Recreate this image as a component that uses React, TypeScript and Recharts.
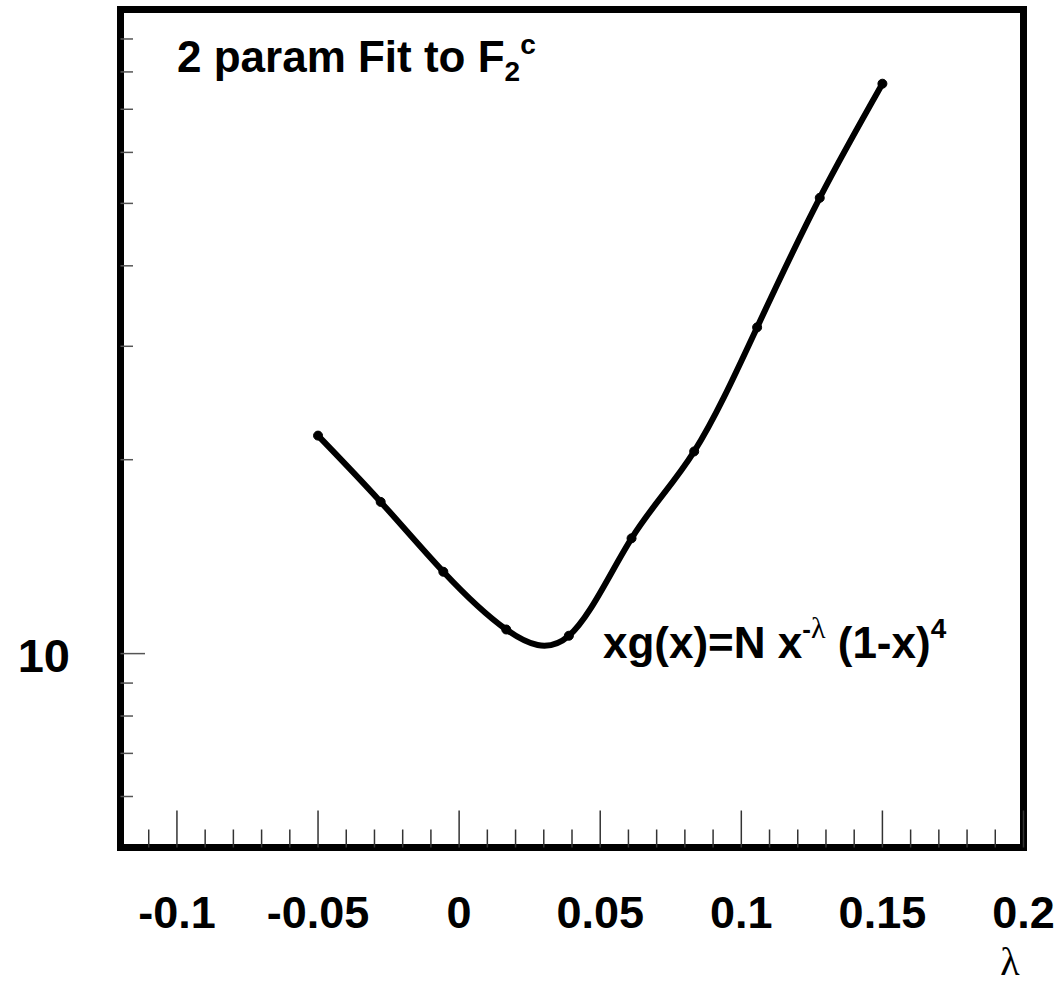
import React from "react";
import { LineChart, Line, XAxis, YAxis, ReferenceArea } from "recharts";

// fit scan: chi2 vs lambda
const lambdaValues = [-0.05, -0.0278, -0.0056, 0.0167, 0.0389, 0.0611, 0.0833, 0.1056, 0.1278, 0.15];
const chi2Values = [21.8, 17.2, 13.4, 10.9, 10.66, 15.1, 20.6, 32.1, 51.0, 76.7];

const xTickValues = [
  -0.11, -0.1, -0.09, -0.08, -0.07, -0.06, -0.05, -0.04, -0.03, -0.02, -0.01, 0,
  0.01, 0.02, 0.03, 0.04, 0.05, 0.06, 0.07, 0.08, 0.09, 0.1, 0.11, 0.12, 0.13,
  0.14, 0.15, 0.16, 0.17, 0.18, 0.19, 0.2,
];
const xTickLabels = ["-0.1", "-0.05", "0", "0.05", "0.1", "0.15", "0.2"];
const yTickValues = [6, 7, 8, 9, 10, 20, 30, 40, 50, 60, 70, 80, 90];
const yTickLabels = ["10"];

const data = lambdaValues.map((l, i) => ({ lambda: l, chi2: chi2Values[i] }));

const font = "'Liberation Sans', Arial, Helvetica, sans-serif";

const XTick = (props: any) => {
  const { x, y, payload } = props;
  const label = String(Number(Number(payload.value).toFixed(2)));
  const major = xTickLabels.includes(label);
  return (
    <g>
      <line x1={x} y1={y} x2={x} y2={y - (major ? 37 : 18)} stroke="#333" strokeWidth={1.5} />
      {major && (
        <text x={x} y={y + 80} textAnchor="middle" fontFamily={font} fontWeight="bold" fontSize={45} fill="#000">
          {label}
        </text>
      )}
    </g>
  );
};

const YTick = (props: any) => {
  const { x, y, payload } = props;
  const label = String(payload.value);
  const major = yTickLabels.includes(label);
  return (
    <g>
      <line x1={x} y1={y} x2={x + (major ? 24.5 : 12.5)} y2={y} stroke="#555" strokeWidth={1.5} />
      {major && (
        <text x={x - 50.5} y={y + 18} textAnchor="end" fontFamily={font} fontWeight="bold" fontSize={47} fill="#000">
          {label}
        </text>
      )}
    </g>
  );
};

export default function App() {
  return (
    <div style={{ position: "absolute", left: 0, top: 0, width: 1064, height: 986, background: "#fff" }}>
      <LineChart width={1064} height={986} data={data} margin={{ top: 9.5, right: 40.5, left: 0, bottom: 0 }}>
        <XAxis
          dataKey="lambda"
          type="number"
          domain={[-0.12, 0.2]}
          allowDataOverflow
          ticks={xTickValues}
          interval={0}
          tick={XTick}
          tickLine={false}
          axisLine={false}
          tickSize={0}
          tickMargin={0}
          height={138.5}
        />
        <YAxis
          type="number"
          scale="log"
          domain={[5, 100]}
          allowDataOverflow
          ticks={yTickValues}
          interval={0}
          tick={YTick}
          tickLine={false}
          axisLine={false}
          tickSize={0}
          tickMargin={0}
          width={120.5}
        />
        <ReferenceArea
          x1={-0.12}
          x2={0.2}
          y1={5}
          y2={100}
          stroke="#000"
          strokeWidth={7}
          fill="none"
          fillOpacity={0}
          ifOverflow="visible"
        />
        <Line
          type="natural"
          dataKey="chi2"
          stroke="#000"
          strokeWidth={6}
          dot={{ r: 4.5, fill: "#000", stroke: "#000", strokeWidth: 1 }}
          isAnimationActive={false}
        />
      </LineChart>
      <svg width={1064} height={986} style={{ position: "absolute", left: 0, top: 0, pointerEvents: "none" }}>
        <text x={177} y={72} fontFamily={font} fontWeight="bold" fontSize={44} fill="#000">
          2 param Fit to F
          <tspan dy={9} fontSize={28}>2</tspan>
          <tspan dy={-27} fontSize={28}>c</tspan>
        </text>
        <text x={603} y={658} fontFamily={font} fontWeight="bold" fontSize={44} fill="#000">
          xg(x)=N x
          <tspan dy={-20} fontSize={26}>-</tspan>
          <tspan fontSize={30} fontWeight="normal" fontFamily="'Liberation Serif', serif">λ</tspan>
          <tspan dy={20}>{" (1-x)"}</tspan>
          <tspan dy={-20} fontSize={28}>4</tspan>
        </text>
        <text x={1010} y={975} textAnchor="middle" fontFamily="'Liberation Serif', 'DejaVu Serif', serif" fontSize={40} fill="#000">
          λ
        </text>
      </svg>
    </div>
  );
}
